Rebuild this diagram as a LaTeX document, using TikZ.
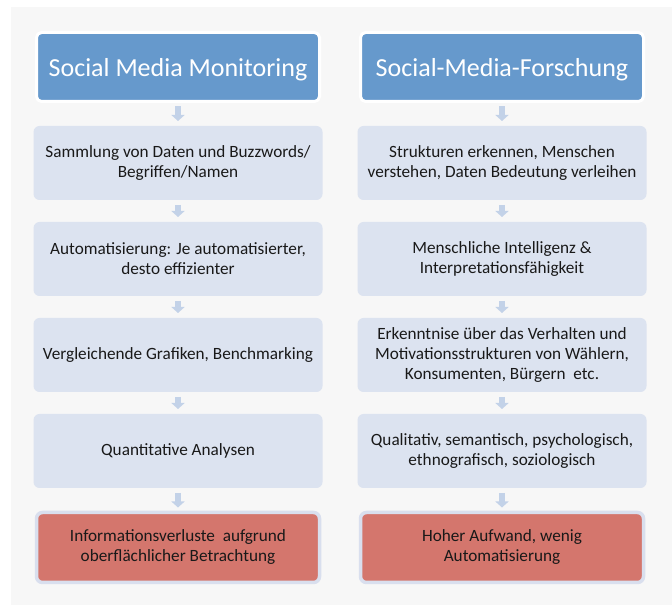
\documentclass[tikz,border=0pt]{standalone}
\usepackage{fontspec}
\setmainfont{Carlito}
\usetikzlibrary{positioning}
\usetikzlibrary{arrows.meta}
\definecolor{panelgray}{HTML}{F7F7F7}
\definecolor{headblue}{HTML}{6699CC}
\definecolor{boxblue}{HTML}{DCE3F0}
\definecolor{endred}{HTML}{D4766D}
\definecolor{endrim}{HTML}{D9DFEE}
\definecolor{flowblue}{HTML}{C3D2E8}
\tikzstyle{headnode} = [draw=white, line width=3pt, fill=headblue, rounded corners=5pt, minimum width=283pt, minimum height=69pt, outer sep=0pt, text=white, text height=25pt, text depth=5pt, font=\fontsize{26}{30}\selectfont]
\tikzstyle{stepnode} = [fill=boxblue, rounded corners=6pt, minimum width=289pt, minimum height=74pt, outer sep=0pt, align=center, font=\fontsize{17.2}{20}\selectfont, text=black!90]
\tikzstyle{endnode} = [draw=endrim, line width=3.5pt, fill=endred, rounded corners=6pt, minimum width=283pt, minimum height=70pt, outer sep=0pt, align=center, font=\fontsize{17.2}{20}\selectfont, text=black!90]
\tikzstyle{flow} = [draw=flowblue, line width=6pt, -{Triangle[width=13pt,length=6pt]}, flowblue, shorten <=5pt, shorten >=5pt]

\begin{document}
\begin{tikzpicture}[x=1pt, y=1pt]
  \useasboundingbox (0,0) rectangle (672,605);
  \fill[panelgray] (11,0) rectangle (672,598);

  % left column
  \node[headnode] (smm) at (178,538) {Social Media Monitoring};
  \node[stepnode, below=24.5pt of smm] (l1) {Sammlung von Daten und Buzzwords/\\Begriffen/Namen};
  \node[stepnode, below=22pt of l1] (l2) {Automatisierung: Je automatisierter,\\desto effizienter};
  \node[stepnode, below=22pt of l2] (l3) {Vergleichende Grafiken, Benchmarking};
  \node[stepnode, below=22pt of l3] (l4) {Quantitative Analysen};
  \node[endnode, below=24.5pt of l4] (l5) {Informationsverluste\ \ aufgrund\\oberflächlicher Betrachtung};

  % right column
  \node[headnode] (smf) at (502,538) {Social-Media-Forschung};
  \node[stepnode, below=24.5pt of smf] (r1) {Strukturen erkennen, Menschen\\verstehen, Daten Bedeutung verleihen};
  \node[stepnode, below=22pt of r1] (r2) {Menschliche Intelligenz \&\\Interpretationsfähigkeit};
  \node[stepnode, below=22pt of r2] (r3) {Erkenntnise über das Verhalten und\\Motivationsstrukturen von Wählern,\\Konsumenten, Bürgern\ \ etc.};
  \node[stepnode, below=22pt of r3] (r4) {Qualitativ, semantisch, psychologisch,\\ethnografisch, soziologisch};
  \node[endnode, below=24.5pt of r4] (r5) {Hoher Aufwand, wenig\\Automatisierung};

  \draw[flow] (smm) -- (l1);
  \draw[flow] (l1) -- (l2);
  \draw[flow] (l2) -- (l3);
  \draw[flow] (l3) -- (l4);
  \draw[flow] (l4) -- (l5);
  \draw[flow] (smf) -- (r1);
  \draw[flow] (r1) -- (r2);
  \draw[flow] (r2) -- (r3);
  \draw[flow] (r3) -- (r4);
  \draw[flow] (r4) -- (r5);
\end{tikzpicture}
\end{document}
